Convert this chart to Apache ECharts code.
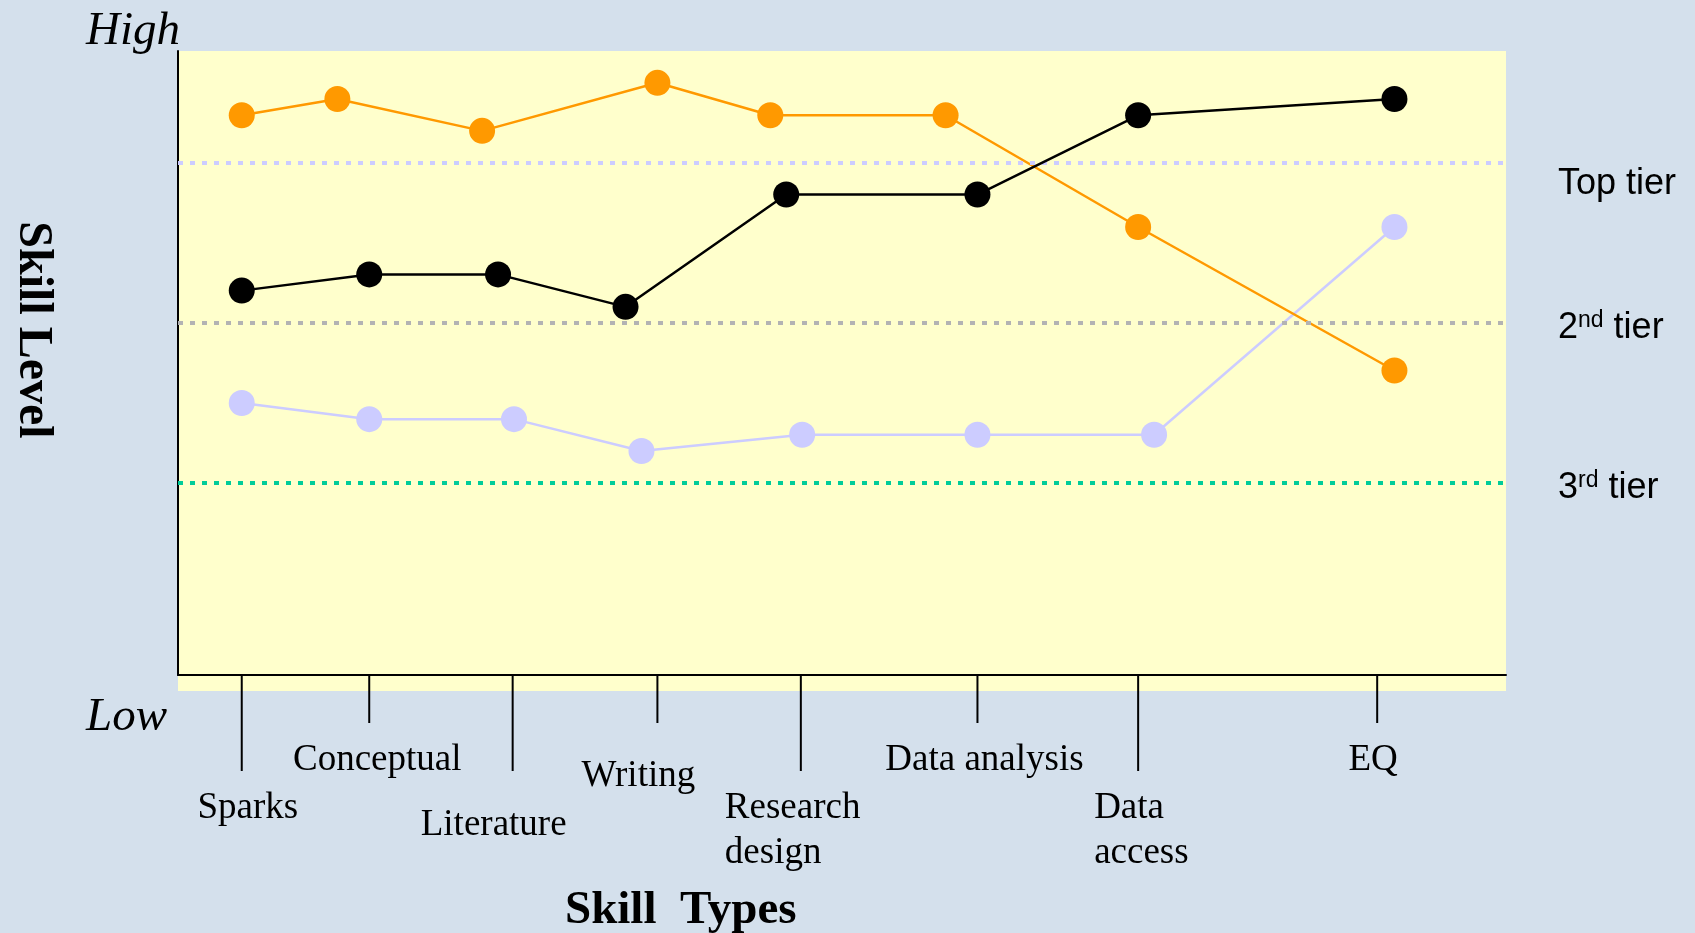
<!DOCTYPE html>
<html>
<head>
<meta charset="utf-8">
<script src="https://cdn.jsdelivr.net/npm/echarts@6/dist/echarts.min.js"></script>
<style>
html,body{margin:0;padding:0;background:#d4e0ec;}
#chart{width:1695px;height:933px;}
</style>
</head>
<body>
<div id="chart"></div>
<script>
// ---- data (x on a 0-100 skill-type scale, y on a 0-100 Low..High scale) ----
const categories = ['Sparks', 'Conceptual', 'Literature', 'Writing', 'Research\ndesign', 'Data analysis', 'Data\naccess', 'EQ'];
const tickX = [4.8, 14.4, 25.2, 36.1, 46.9, 60.2, 72.3, 90.3];

const orangeX = [4.8, 12.0, 22.9, 36.1, 44.6, 57.8, 72.3, 91.6];
const orangeY = [89.7, 92.3, 87.2, 94.9, 89.7, 89.7, 71.8, 48.8];

const blackX = [4.8, 14.4, 24.1, 33.7, 45.8, 60.2, 72.3, 91.6];
const blackY = [61.6, 64.2, 64.2, 59.0, 77.0, 77.0, 89.7, 92.3];

const lavenderX = [4.8, 14.4, 25.3, 34.9, 47.0, 60.2, 73.5, 91.6];
const lavenderY = [43.6, 41.0, 41.0, 35.9, 38.5, 38.5, 38.5, 71.8];

const tierNames = ['Top tier', '2{sup|nd} tier', '3{sup|rd} tier'];
const tierY = [82.1, 56.5, 30.8];

// ---- styles / layout ----
const tierColors = ['#ccccff', '#b3b3b3', '#00cc99'];
const tierPadTop = [43, 11, 11];
// per-label layout: tick length, label dx, first-line centre dy (from axis), align
const labelLayout = [
  {tick: 96, dx: 6,   dy: 133, align: 'center'},
  {tick: 48, dx: 8,   dy: 85,  align: 'center'},
  {tick: 96, dx: -19, dy: 150, align: 'center'},
  {tick: 48, dx: -19, dy: 101, align: 'center'},
  {tick: 96, dx: -76, dy: 133, align: 'left'},
  {tick: 48, dx: 7,   dy: 85,  align: 'center'},
  {tick: 96, dx: -44, dy: 133, align: 'left'},
  {tick: 48, dx: -4,  dy: 85,  align: 'center'}
];
const SERIF = '"Liberation Serif", "Times New Roman", serif';
const SANS = '"Liberation Sans", Arial, sans-serif';

const zip = (xs, ys) => xs.map((x, i) => [x, ys[i]]);

const chart = echarts.init(document.getElementById('chart'));
chart.setOption({
  animation: false,
  backgroundColor: '#d4e0ec',
  title: [
    {text: 'High', left: 86, top: 8, padding: 0,
     textStyle: {fontFamily: SERIF, fontStyle: 'italic', fontWeight: 'normal', fontSize: 47, color: '#000'}},
    {text: 'Low', left: 86, top: 694, padding: 0,
     textStyle: {fontFamily: SERIF, fontStyle: 'italic', fontWeight: 'normal', fontSize: 47, color: '#000'}},
    {text: 'Skill  Types', left: 565, top: 887, padding: 0,
     textStyle: {fontFamily: SERIF, fontWeight: 'bold', fontSize: 47, color: '#000'}}
  ],
  graphic: [
    {type: 'rect', left: 178, top: 676, z: 0, silent: true,
     shape: {width: 1328, height: 15}, style: {fill: '#ffffcc'}},
    {type: 'text', x: 32, y: 330, rotation: -Math.PI / 2, silent: true,
     style: {text: 'Skill Level', font: 'bold 48px ' + SERIF, fill: '#000', align: 'center', verticalAlign: 'middle'}}
  ],
  grid: {left: 178, right: 189, top: 51, bottom: 258, show: true, backgroundColor: '#ffffcc', borderWidth: 0},
  xAxis: {
    type: 'value', min: 0, max: 100,
    axisLine: {show: true, lineStyle: {color: '#000', width: 2}},
    axisTick: {show: false}, axisLabel: {show: false}, splitLine: {show: false}
  },
  yAxis: {
    type: 'value', min: 0, max: 100,
    axisLine: {show: true, lineStyle: {color: '#000', width: 2}},
    axisTick: {show: false}, axisLabel: {show: false}, splitLine: {show: false}
  },
  series: [
    {
      name: 'tiers', type: 'line', data: [], z: 1, silent: true,
      markLine: {
        symbol: 'none', silent: true, animation: false,
        data: tierY.map((y, i) => ({
          yAxis: y,
          lineStyle: {color: tierColors[i], width: 4, type: [5, 7]},
          label: {
            show: true, position: 'end', distance: 52, formatter: tierNames[i],
            fontFamily: SANS, fontSize: 36, color: '#000',
            padding: [tierPadTop[i], 0, 0, 0],
            rich: {sup: {fontFamily: SANS, fontSize: 23, color: '#000', padding: [0, 0, 15, 0]}}
          }
        }))
      }
    },
    {
      name: 'Lavender', type: 'line', z: 3, data: zip(lavenderX, lavenderY),
      symbol: 'circle', symbolSize: 26,
      itemStyle: {color: '#ccccff'}, lineStyle: {color: '#ccccff', width: 2.5}
    },
    {
      name: 'Orange', type: 'line', z: 4, data: zip(orangeX, orangeY),
      symbol: 'circle', symbolSize: 26,
      itemStyle: {color: '#ff9900'}, lineStyle: {color: '#ff9900', width: 2.5}
    },
    {
      name: 'Black', type: 'line', z: 5, data: zip(blackX, blackY),
      symbol: 'circle', symbolSize: 26,
      itemStyle: {color: '#000'}, lineStyle: {color: '#000', width: 2.5}
    },
    {
      name: 'ticks', type: 'custom', z: 6, silent: true, clip: false,
      data: tickX.map((x, i) => [x, 0, i]),
      renderItem: function (params, api) {
        const i = api.value(2);
        const pt = api.coord([api.value(0), 0]);
        const lay = labelLayout[i];
        const text = categories[i];
        const lines = text.split('\n').length;
        const lh = 45;
        return {
          type: 'group',
          children: [
            {type: 'line', shape: {x1: pt[0], y1: pt[1], x2: pt[0], y2: pt[1] + lay.tick},
             style: {stroke: '#000', lineWidth: 2}},
            {type: 'text', x: pt[0] + lay.dx, y: pt[1] + lay.dy + (lines - 1) * lh / 2,
             style: {text: text, font: '37px ' + SERIF, fill: '#000', align: lay.align,
                     verticalAlign: 'middle', lineHeight: lh}}
          ]
        };
      }
    }
  ]
});
</script>
</body>
</html>
